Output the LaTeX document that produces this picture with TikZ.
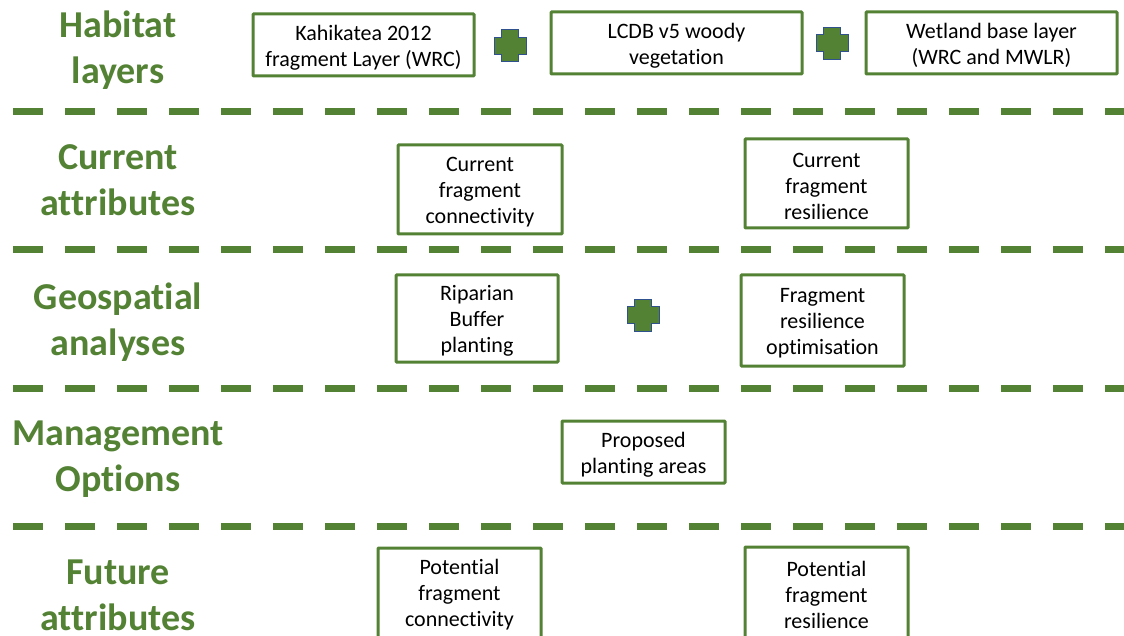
\documentclass[tikz,border=0pt]{standalone}
\usepackage{fontspec}
\setmainfont[Ligatures=NoCommon]{Carlito}
\definecolor{leaf}{HTML}{548235}
\definecolor{plusedge}{HTML}{2F528F}
\begin{document}
\begin{tikzpicture}[x=1pt,y=-1pt,
  boxframe/.style={draw=leaf, line width=3pt, fill=white, rounded corners=0.8pt},
  boxtext/.style={align=center, font=\fontsize{22}{26}\selectfont, text=black, inner sep=0pt, yshift=-2.5pt},
  rowtitle/.style={align=center, font=\fontsize{38}{46}\selectfont\bfseries, text=leaf, inner sep=0pt, yshift=-2.5pt},
  divider/.style={draw=leaf, line width=7pt, dash pattern=on 30pt off 22pt},
  plussign/.pic={\draw[fill=leaf, draw=plusedge, line width=1pt]
     (-16,-8.5) -- (-8.5,-8.5) -- (-8.5,-16) -- (8.5,-16) -- (8.5,-8.5) -- (16,-8.5)
     -- (16,8.5) -- (8.5,8.5) -- (8.5,16) -- (-8.5,16) -- (-8.5,8.5) -- (-16,8.5) -- cycle;}
]
\useasboundingbox (0,0) rectangle (1124,636);
\clip (0,0) rectangle (1124,636);

% dividers
\coordinate (d1a) at (13,111.5); \coordinate (d1b) at (1130,111.5);
\coordinate (d2a) at (13,249.5); \coordinate (d2b) at (1130,249.5);
\coordinate (d3a) at (13,388); \coordinate (d3b) at (1130,388);
\coordinate (d4a) at (13,526); \coordinate (d4b) at (1130,526);
\draw[divider] (d1a) -- (d1b);
\draw[divider] (d2a) -- (d2b);
\draw[divider] (d3a) -- (d3b);
\draw[divider] (d4a) -- (d4b);

% row titles
\node[rowtitle] (t1) at (118,48) {Habitat\\layers};
\node[rowtitle] (t2) at (118,177.5) {Current\\attributes};
\node[rowtitle] (t3) at (118,320) {Geospatial\\analyses};
\node[rowtitle] (t4) at (118,457) {Management\\Options};
\node[rowtitle] (t5) at (118,592.5) {Future\\attributes};

% row 1
\draw[boxframe] (253,14) rectangle (474,76);
\node[boxtext] (kah) at (363.5,45) {Kahikatea 2012\\fragment Layer (WRC)};
\draw[boxframe] (551,12) rectangle (802,74);
\node[boxtext] (lcdb) at (676.5,43) {LCDB v5 woody\\vegetation};
\draw[boxframe] (866,12) rectangle (1117,74);
\node[boxtext] (wet) at (991.5,43) {Wetland base layer\\(WRC and MWLR)};
\pic at (510,46) {plussign};
\pic at (832,43.5) {plussign};

% row 2
\draw[boxframe] (398,145) rectangle (562,234);
\node[boxtext] (ccon) at (480,189.5) {Current\\fragment\\connectivity};
\draw[boxframe] (745,139) rectangle (908,228);
\node[boxtext] (cres) at (826.5,183.5) {Current\\fragment\\resilience};

% row 3
\draw[boxframe] (396,275) rectangle (558,362);
\node[boxtext] (rip) at (477,318.5) {Riparian\\Buffer\\planting};
\draw[boxframe] (741,275) rectangle (904,366);
\node[boxtext] (opt) at (822.5,320.5) {Fragment\\resilience\\optimisation};
\pic at (643,315) {plussign};

% row 4
\draw[boxframe] (562,421) rectangle (725,483);
\node[boxtext] (prop) at (643.5,452) {Proposed\\planting areas};

% row 5
\draw[boxframe] (378,548) rectangle (541,640);
\node[boxtext] (pcon) at (459.5,592.5) {Potential\\fragment\\connectivity};
\draw[boxframe] (745,547) rectangle (908,640);
\node[boxtext] (pres) at (826.5,592) {Potential\\fragment\\resilience};
\end{tikzpicture}
\end{document}
